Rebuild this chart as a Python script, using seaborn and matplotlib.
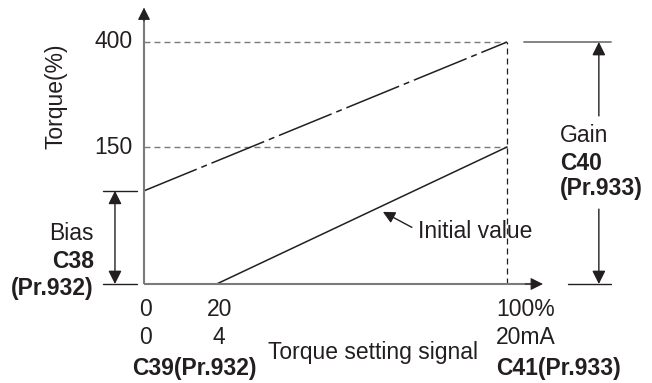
import numpy as np
import matplotlib
matplotlib.use("Agg")
import matplotlib.pyplot as plt
import seaborn as sns

# Données (schéma de réglage biais / gain)
signal_pct = [0, 20, 100]
signal_ma = [0, 4, 20]
torque_ticks = [150, 400]
initial_x = [20, 100]
initial_y = [0, 150]
bias_x = [0, 100]
bias_y = [102, 400]
bias_value = 102
gain_value = 400

# Style
sns.set_style("white")
plt.rcParams['font.family'] = ['Liberation Sans', 'DejaVu Sans']
plt.rcParams['lines.scale_dashes'] = False
INK = '#231f20'
AXIS = '#7a7a7a'
FS = 16.5

# échelle schématique (non linéaire) pour l'axe du couple
T_PTS = [-300, 0, 150, 400, 800]
D_PTS = [-274, 0, 137, 242, 410]
fwd = lambda y: np.interp(y, T_PTS, D_PTS)
inv = lambda d: np.interp(d, D_PTS, T_PTS)

fig = plt.figure(figsize=(6.52, 3.83), dpi=100)
ax = fig.add_axes([0, 0, 1, 1])
ax.set_yscale('function', functions=(fwd, inv))
ax.set_xlim(-39.67, 139.94)
ax.set_ylim(-108.4, 500)
ax.axis('off')

# repères pointillés
for t in torque_ticks:
    ax.plot([0, signal_pct[-1]], [t, t], color=AXIS, lw=1.0, ls=(0, (4.3, 2.9)))
ax.plot([signal_pct[-1], signal_pct[-1]], [0, torque_ticks[-1]], color=INK, lw=0.9,
        ls=(0, (4.3, 2.9)))

# courbes
sns.lineplot(x=initial_x, y=initial_y, ax=ax, color=INK, lw=1.1)
sns.lineplot(x=bias_x, y=bias_y, ax=ax, color=INK, lw=1.1,
             linestyle=(0, (41, 3.6, 4.3, 3.6)))

# axes avec flèches
ax.plot([0, 0], [0, 462], color=AXIS, lw=1.5, solid_capstyle='butt')
ax.plot([0, 107], [0, 0], color=AXIS, lw=1.5, solid_capstyle='butt')
head = dict(arrowstyle='-|>', color=INK, mutation_scale=19, lw=0.8,
            shrinkA=0, shrinkB=0)
ax.annotate('', xy=(0, 482), xytext=(0, 450), arrowprops=head)
ax.annotate('', xy=(109.9, 0), xytext=(105, 0), arrowprops=head)

# biais
ax.plot([-11.3, -1.9], [bias_value, bias_value], color=INK, lw=1.0)
ax.plot([-11.3, -1.9], [0, 0], color=INK, lw=1.0)
ax.annotate('', xy=(-8.0, bias_value), xytext=(-8.0, 0),
            arrowprops=dict(arrowstyle='<|-|>', color=INK, mutation_scale=20,
                            lw=1.0, shrinkA=0, shrinkB=0))

# gain
ax.plot([104.7, 128.7], [gain_value, gain_value], color=AXIS, lw=1.3)
ax.plot([116.8, 128.7], [0, 0], color=INK, lw=1.0)
ax.annotate('', xy=(125.3, gain_value), xytext=(125.3, 224),
            arrowprops=dict(arrowstyle='-|>', color=INK, mutation_scale=20,
                            lw=1.0, shrinkA=0, shrinkB=0))
ax.annotate('', xy=(125.3, 0), xytext=(125.3, 82),
            arrowprops=dict(arrowstyle='-|>', color=INK, mutation_scale=20,
                            lw=1.0, shrinkA=0, shrinkB=0))

# flèche "Initial value"
ax.annotate('', xy=(65.8, 79), xytext=(73.8, 62),
            arrowprops=dict(arrowstyle='-|>', color=INK, mutation_scale=18,
                            lw=1.0, shrinkA=0, shrinkB=0))


def ftxt(x, y, s, **kw):
    kw.setdefault('va', 'center')
    fig.text(x / 652, 1 - y / 383, s, fontsize=FS, color=INK, **kw)


# textes
for t, yp in zip(torque_ticks, [147, 42]):
    ftxt(133, yp, str(t), ha='right')
ftxt(56, 96, 'Torque(%)', ha='center', rotation=90)

ftxt(94, 233, 'Bias', ha='right')
ftxt(94, 262, 'C38', ha='right', fontweight='bold')
ftxt(94, 288, '(Pr.932)', ha='right', fontweight='bold')

for v, xp in zip(signal_pct[:2], [145, 220]):
    ftxt(xp, 310, str(v), ha='center')
for v, xp in zip(signal_ma[:2], [145, 219]):
    ftxt(xp, 338, str(v), ha='center')
ftxt(496, 310, f'{signal_pct[-1]}%', ha='left')
ftxt(496, 338, f'{signal_ma[-1]}mA', ha='left')
ftxt(194, 368, 'C39(Pr.932)', ha='center', fontweight='bold')
ftxt(496, 368, 'C41(Pr.933)', ha='left', fontweight='bold')
ftxt(373, 352, 'Torque setting signal', ha='center')

ftxt(560, 136, 'Gain', ha='left')
ftxt(560, 163, 'C40', ha='left', fontweight='bold')
ftxt(560, 189, '(Pr.933)', ha='left', fontweight='bold')

ftxt(418, 231, 'Initial value', ha='left')

plt.savefig('out.png', dpi=100)
print("[✓] out.png")
